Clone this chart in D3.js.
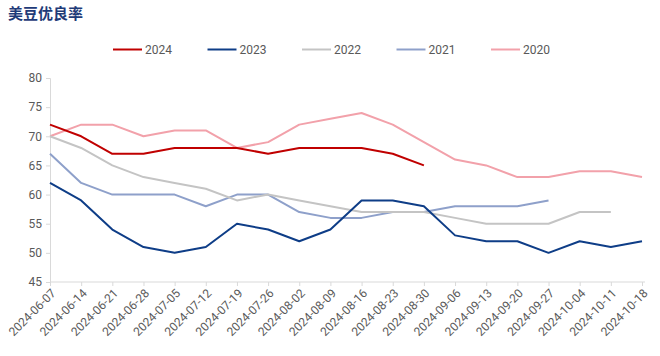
<!DOCTYPE html>
<html><head><meta charset="utf-8">
<script src="https://cdn.jsdelivr.net/npm/d3@7"></script>
<style>body{margin:0;background:#fff}svg{display:block}</style>
</head><body><svg id="c" width="660" height="356"></svg>
<script>
const dates = ["2024-06-07","2024-06-14","2024-06-21","2024-06-28","2024-07-05","2024-07-12","2024-07-19","2024-07-26","2024-08-02","2024-08-09","2024-08-16","2024-08-23","2024-08-30","2024-09-06","2024-09-13","2024-09-20","2024-09-27","2024-10-04","2024-10-11","2024-10-18"];
const s2024 = [72,70,67,67,68,68,68,67,68,68,68,67,65];
const s2023 = [62,59,54,51,50,51,55,54,52,54,59,59,58,53,52,52,50,52,51,52];
const s2022 = [70,68,65,63,62,61,59,60,59,58,57,57,57,56,55,55,55,57,57];
const s2021 = [67,62,60,60,60,58,60,60,57,56,56,57,57,58,58,58,59];
const s2020 = [70,72,72,70,71,71,68,69,72,73,74,72,69,66,65,63,63,64,64,63];
const seriesNames = ["2024","2023","2022","2021","2020"];
const yTicks = [45,50,55,60,65,70,75,80];

const colors = ["#C00000","#0E3D87","#C4C4C4","#8EA0CA","#F2A1AA"];
const data = [s2024,s2023,s2022,s2021,s2020];

const svg = d3.select("#c");
const x = d3.scalePoint().domain(dates).range([50,642]);
const y = d3.scaleLinear().domain([45,80]).range([282,78]);

svg.append("text").attr("x",8).attr("y",19).text("美豆优良率")
  .attr("font-family","'Noto Sans CJK SC'").attr("font-weight","bold")
  .attr("font-size",15).attr("fill","#1F3B78");

// axes
const gy = svg.append("g").attr("transform","translate(50,0)")
  .call(d3.axisLeft(y).tickValues(yTicks).tickSize(4).tickPadding(4));
gy.select(".domain").attr("stroke","#D9D9D9");
gy.selectAll(".tick line").attr("stroke","#D9D9D9");
gy.selectAll(".tick text").attr("fill","#595959").attr("font-size",12).attr("font-family","Roboto, 'Noto Sans'");

const gx = svg.append("g").attr("transform","translate(0,282)")
  .call(d3.axisBottom(x).tickSize(4).tickSizeOuter(0));
gx.select(".domain").attr("stroke","#D9D9D9").attr("d","M50,0H645");
gx.selectAll(".tick line").attr("stroke","#D9D9D9");
gx.selectAll(".tick text").attr("fill","#595959").attr("font-size",12).attr("font-family","Roboto, 'Noto Sans'")
  .attr("text-anchor","end").attr("dy",0).attr("y",0)
  .attr("transform","translate(6,12) rotate(-45)");

// lines
const line = d3.line().x((d,i)=>x(dates[i])).y(d=>y(d));
data.slice().reverse().forEach((s,k)=>{
  const idx = data.length-1-k;
  svg.append("path").datum(s).attr("d",line).attr("fill","none")
    .attr("stroke",colors[idx]).attr("stroke-width",2).attr("stroke-linejoin","round");
});

// legend
const lg = svg.append("g");
seriesNames.forEach((n,i)=>{
  const lx = 113 + i*94.5;
  lg.append("line").attr("x1",lx).attr("x2",lx+29).attr("y1",49.5).attr("y2",49.5)
    .attr("stroke",colors[i]).attr("stroke-width",2);
  lg.append("text").attr("x",lx+32).attr("y",54).text(n).attr("fill","#595959")
    .attr("font-size",12).attr("font-family","Roboto, 'Noto Sans'");
});
</script></body></html>
